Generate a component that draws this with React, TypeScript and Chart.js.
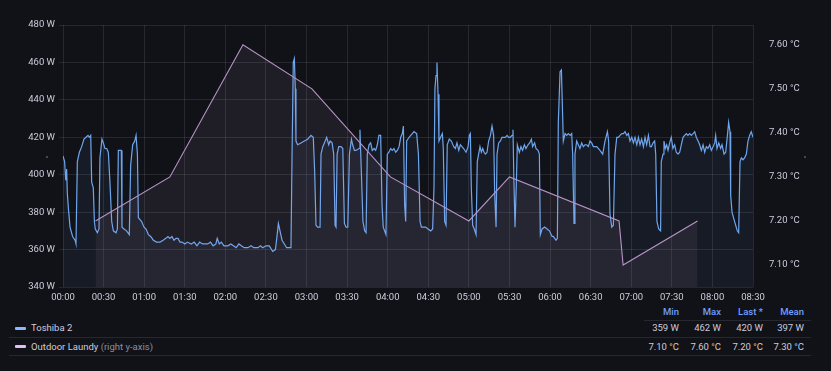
import React, { useEffect, useRef } from "react";
import { Chart, registerables } from "chart.js";

Chart.register(...registerables);

// ---- Data (x in minutes since 00:00) ----
const toshibaMinutes = [
  0, 1.2, 2, 2.7, 3.2, 4, 5.2, 7.1, 8.9, 9.6, 10.6, 12.1, 13.8, 15.5, 17, 18.5, 19.5, 20.5, 21.2, 22.4,
  23.2, 23.9, 25.4, 26.6, 27.3, 28.8, 29.8, 31, 32.3, 33.5, 34.7, 36, 37.2, 39.2, 40.2, 40.9, 42.1, 43.1, 43.6, 45.1,
  47, 49, 50, 51.5, 53, 54, 55, 55.7, 56.9, 58.1, 59.9, 61.4, 63.1, 64.8, 66.8, 69.2, 71.7,
  74, 76, 77.6, 79, 80.5, 82, 83.5, 85, 86.5, 88, 90, 92, 94.8, 97, 99, 101, 103, 105, 107, 109, 111, 113, 114,
  115.5, 117, 119, 121.9, 124, 126, 128, 130, 131.8, 134, 136.7, 139, 141, 144.1,
  146, 147.6, 150, 152.5, 155, 157, 158, 159.2, 160.4, 161.9, 163.6, 165.3, 167.3, 168.5, 169.3, 170.2, 171, 171.7, 172.2, 173.4,
  175.9, 178.4, 180.8, 183.3, 185, 186, 187, 188.2, 190, 190.7, 192, 193.2, 194.9, 196.4, 197.4, 198.9, 200.1, 201.1, 201.8, 202.6,
  203.8, 205.5, 206.8, 208, 209.2, 210.5, 211.7, 213.2, 214.1, 215.4, 216.6,
  218.8, 219.5, 220.5, 221.7, 223, 224, 224.9, 226.2, 227.4, 228.6, 229.9, 231.1, 232.3, 233.5, 234.8, 235.8, 236.7, 237.7, 238.7, 239.7,
  240.9, 242.2, 243.4, 244.6, 245.9, 247.1, 248.4, 249.6, 250.8, 251.6, 252.5, 253.3, 254, 255.8, 257, 258.2, 259.4, 261.4, 262.7, 263.9,
  264.9, 266.3, 268, 269.8, 271.8, 273.2, 274.2, 274.9, 275.7, 276.4, 277.2, 277.9, 279.1, 280.4, 281.1, 282.1, 283.1, 284, 285.5, 287,
  288.8, 290, 291.2, 292.5, 293.7, 294.9, 296.1, 297.9, 299.4, 300.3, 301.1, 301.8, 302.8, 304, 305.3, 306.2, 307.2, 308.2, 309.2, 310.2,
  311.2, 312.2, 313.4, 314.6, 315.9, 317.1, 318.3, 319.1, 320.1, 320.8, 322, 323.3, 324.5, 325.7, 327, 328.2, 329.4, 330.6, 331.9, 332.6,
  333.3, 334.1, 335.1, 335.8, 337.3, 338.5, 339.7, 341, 342.2, 343.7, 344.9, 346.2, 347.1, 348.6, 349.6, 351.1, 352.1, 352.8, 354.1, 356,
  357.8, 359.5, 361.5,
  362.4, 364.4, 365.4, 366.1, 367.4, 368.4, 369.1, 369.8, 371.1, 372.3, 373.5, 374.8, 376, 376.7, 377.7, 378.4, 379.7, 380.9, 382.1, 383.4,
  384.6, 385.8, 387.1, 388.3, 389.5, 390.8, 392, 394.5, 396.9, 398.9, 400.6, 402.4, 403.3, 404.3, 405.6, 406.8, 408, 409.3, 410.5, 411.7,
  413, 414.2, 415.4, 416.7, 417.9, 419.1, 420.4, 421.6, 422.8, 424.1, 425.3, 426.5, 427.7, 429, 430.2, 431.4, 432.7, 433.9,
  434.9, 436.1, 437.3, 438.1, 439, 440.3, 441.7, 442.2, 443.5, 444.2, 445.2, 446.2, 447.2, 448.4, 449.6, 450.8, 452.1, 453.3, 454.6, 455.8,
  457, 458.3, 459.5, 460.7, 461.9, 463.2, 464.4, 465.7, 466.9, 468.1, 469.4, 470.6, 471.8, 473.1, 474.3, 475.5, 476.7, 478, 479.2, 480.5,
  481.7, 482.4, 483.4, 484.7, 486.1, 487.1, 488.6, 489.8, 491.1, 492, 493, 493.5, 494.5, 496, 497.2, 498.4, 499.4, 500.4, 501.4, 502.6,
  503.8, 505.1, 506.3, 507.5, 508.7, 510,
];

const toshibaWatts = [
  410, 407, 397, 403, 390, 382, 372, 367, 365, 363, 407, 412, 415, 419, 420, 421, 420, 421, 396, 393,
  375, 371, 369, 371, 409, 419, 417, 414, 414, 412, 396, 375, 370, 369, 371, 413, 413, 413, 372, 371,
  370, 368, 405, 416, 418, 421, 411, 377, 376, 375, 372, 371, 368, 367, 365, 364, 364,
  365, 366, 367, 366, 367, 365, 366, 366, 364, 364, 363, 364, 363, 364, 362, 364, 363, 363, 363, 364, 362, 363, 366,
  363, 364, 362, 362, 363, 362, 361, 363, 362, 361, 361, 362, 361, 361,
  362, 361, 362, 362, 359, 360, 366, 374, 370, 365, 363, 361, 361, 361, 411, 460, 462, 446, 418, 416,
  417, 418, 419, 421, 420, 402, 373, 372, 372, 411, 415, 417, 420, 416, 418, 417, 411, 373, 372, 411,
  415, 415, 414, 374, 372, 372, 411, 419, 416, 413, 413,
  414, 424, 402, 375, 370, 369, 411, 416, 417, 413, 414, 413, 416, 421, 421, 384, 372, 370, 368, 411,
  412, 414, 413, 414, 412, 413, 415, 420, 422, 426, 384, 375, 418, 420, 421, 422, 423, 422, 411, 375,
  372, 372, 372, 371, 370, 371, 393, 446, 453, 460, 443, 418, 420, 422, 414, 375, 373, 416, 419, 418,
  415, 414, 417, 413, 416, 415, 414, 412, 415, 421, 422, 393, 373, 371, 368, 407, 411, 415, 412, 414,
  412, 411, 412, 418, 421, 426, 421, 389, 372, 411, 417, 418, 420, 420, 420, 421, 420, 420, 421, 424,
  396, 372, 396, 416, 412, 415, 413, 416, 414, 416, 417, 419, 415, 417, 414, 413, 411, 368, 371, 372,
  371, 370, 367,
  367, 365, 366, 428, 455, 456, 437, 418, 422, 421, 422, 421, 422, 411, 374, 411, 418, 416, 414, 417,
  415, 416, 416, 415, 418, 417, 415, 415, 413, 411, 418, 423, 418, 379, 372, 373, 411, 420, 420, 421,
  422, 422, 423, 421, 422, 418, 420, 417, 420, 416, 420, 416, 419, 415, 420, 416, 421, 415,
  415, 417, 418, 411, 375, 371, 370, 407, 411, 418, 414, 416, 413, 417, 420, 414, 416, 412, 411, 412,
  416, 420, 421, 422, 421, 422, 421, 422, 423, 420, 418, 416, 413, 416, 412, 415, 414, 416, 413, 415,
  417, 421, 414, 417, 414, 416, 411, 412, 421, 428, 423, 389, 380, 376, 373, 370, 369, 407, 409, 408,
  409, 411, 418, 421, 423, 420,
];

const laundyMinutes = [24, 79, 133, 184, 242, 300, 330, 411, 414, 469];
const laundyTemps = [7.2, 7.3, 7.6, 7.5, 7.3, 7.2, 7.3, 7.2, 7.1, 7.2];

const xTickMinutes = [0, 30, 60, 90, 120, 150, 180, 210, 240, 270, 300, 330, 360, 390, 420, 450, 480, 510];
const leftTicks = [340, 360, 380, 400, 420, 440, 460, 480];
const rightTicks = [7.1, 7.2, 7.3, 7.4, 7.5, 7.6];

const seriesNames = ["Toshiba 2", "Outdoor Laundy"];
const statHeaders = ["Min", "Max", "Last *", "Mean"];
const toshibaStats = ["359 W", "462 W", "420 W", "397 W"];
const laundyStats = ["7.10 °C", "7.60 °C", "7.20 °C", "7.30 °C"];

// ---- Styles ----
const BG = "#111217";
const TEXT = "#ccccdc";
const GRID = "rgba(204,204,220,0.12)";
const BLUE = "#6ea6ee";
const PURPLE = "#b894c8";
const FONT = "Roboto";

function fmtTime(v: number) {
  const h = Math.floor(v / 60);
  const m = Math.round(v % 60);
  return String(h).padStart(2, "0") + ":" + String(m).padStart(2, "0");
}

export default function App() {
  const ref = useRef<HTMLCanvasElement | null>(null);

  useEffect(() => {
    if (!ref.current) return;
    const tickFont = { family: FONT, size: 9.5 };
    const chart = new Chart(ref.current, {
      type: "line",
      data: {
        datasets: [
          {
            label: seriesNames[0],
            data: toshibaMinutes.map((m, i) => ({ x: m, y: toshibaWatts[i] })),
            borderColor: BLUE,
            borderWidth: 1.2,
            backgroundColor: "rgba(110,160,230,0.07)",
            fill: "start",
            pointRadius: 0,
            yAxisID: "y",
            order: 1,
          },
          {
            label: seriesNames[1],
            data: laundyMinutes.map((m, i) => ({ x: m, y: laundyTemps[i] })),
            borderColor: PURPLE,
            borderWidth: 1.1,
            backgroundColor: "rgba(200,160,220,0.08)",
            fill: "start",
            pointRadius: 0,
            yAxisID: "y1",
            order: 0,
          },
        ],
      },
      options: {
        animation: false,
        responsive: false,
        maintainAspectRatio: false,
        layout: { padding: { top: 25, left: 0, right: 0, bottom: 0 } },
        plugins: { legend: { display: false }, tooltip: { enabled: false } },
        scales: {
          x: {
            type: "linear",
            min: 0,
            max: 510,
            grid: { color: GRID, drawTicks: false },
            border: { display: false },
            ticks: {
              color: TEXT,
              font: tickFont,
              padding: 5,
              maxRotation: 0,
              autoSkip: false,
              callback: (v: any) => fmtTime(Number(v)),
            },
            afterBuildTicks: (s: any) => {
              s.ticks = xTickMinutes.map((v) => ({ value: v }));
            },
            afterFit: (s: any) => {
              s.height = 18;
            },
          },
          y: {
            type: "linear",
            position: "left",
            min: 340,
            max: 480,
            grid: { color: GRID, tickLength: 4 },
            border: { display: false },
            ticks: {
              color: TEXT,
              font: tickFont,
              padding: 4,
              callback: (v: any) => `${v} W`,
            },
            afterBuildTicks: (s: any) => {
              s.ticks = leftTicks.map((v) => ({ value: v }));
            },
            afterFit: (s: any) => {
              s.width = 63;
            },
          },
          y1: {
            type: "linear",
            position: "right",
            min: 7.05,
            max: 7.645,
            grid: { display: false, drawOnChartArea: false },
            border: { display: false },
            ticks: {
              color: TEXT,
              font: tickFont,
              padding: 8,
              callback: (v: any) => `${Number(v).toFixed(2)} °C`,
            },
            afterBuildTicks: (s: any) => {
              s.ticks = rightTicks.map((v) => ({ value: v }));
            },
            afterFit: (s: any) => {
              s.width = 78;
            },
          },
        },
      },
    });
    return () => chart.destroy();
  }, []);

  const colX = [679, 721, 763, 804];
  const textStyle: React.CSSProperties = {
    position: "absolute",
    fontFamily: FONT,
    fontSize: "9.5px",
    lineHeight: "12px",
    whiteSpace: "nowrap",
    color: TEXT,
  };

  return (
    <div
      style={{
        position: "fixed",
        left: 0,
        top: 0,
        width: 831,
        height: 371,
        background: BG,
        overflow: "hidden",
      }}
    >
      <canvas
        ref={ref}
        width={831}
        height={305}
        style={{ position: "absolute", left: 0, top: 0, width: 831, height: 305 }}
      />
      {/* small axis placeholders */}
      <div style={{ position: "absolute", left: 46, top: 156, width: 2, height: 2, borderRadius: 1, background: "#5a5b63" }} />
      <div style={{ position: "absolute", left: 804, top: 156, width: 2, height: 2, borderRadius: 1, background: "#5a5b63" }} />

      {/* Legend header */}
      {statHeaders.map((h, i) => (
        <div
          key={h}
          style={{ ...textStyle, top: 306, right: 831 - colX[i], textAlign: "right", color: "#6e9fff", fontWeight: 500 }}
        >
          {h}
        </div>
      ))}
      <div style={{ position: "absolute", left: 644, top: 320, width: 167, height: 1, background: "rgba(204,204,220,0.12)" }} />

      {/* Row 1 */}
      <div style={{ position: "absolute", left: 15, top: 327, width: 11, height: 3, borderRadius: 1, background: "#8ab8ff" }} />
      <div style={{ ...textStyle, left: 31, top: 322 }}>{seriesNames[0]}</div>
      {toshibaStats.map((s, i) => (
        <div key={"t" + i} style={{ ...textStyle, top: 322, right: 831 - colX[i], textAlign: "right" }}>
          {s}
        </div>
      ))}
      <div style={{ position: "absolute", left: 9, top: 337, width: 802, height: 1, background: "rgba(204,204,220,0.12)" }} />

      {/* Row 2 */}
      <div style={{ position: "absolute", left: 15, top: 345, width: 11, height: 3, borderRadius: 1, background: "#e3bdf5" }} />
      <div style={{ ...textStyle, left: 31, top: 340.5 }}>
        {seriesNames[1]} <span style={{ color: "#8e8e99" }}>(right y-axis)</span>
      </div>
      {laundyStats.map((s, i) => (
        <div key={"l" + i} style={{ ...textStyle, top: 340.5, right: 831 - colX[i], textAlign: "right" }}>
          {s}
        </div>
      ))}
      <div style={{ position: "absolute", left: 9, top: 355, width: 802, height: 1, background: "rgba(204,204,220,0.12)" }} />
    </div>
  );
}
